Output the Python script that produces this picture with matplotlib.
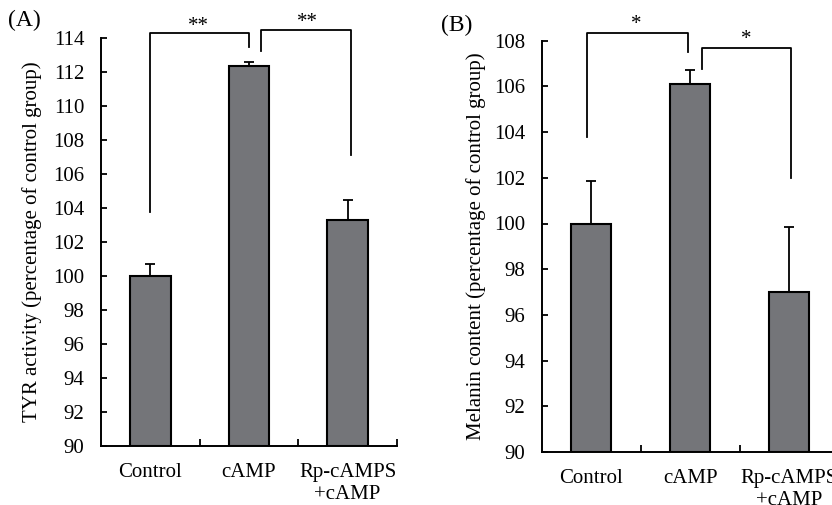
import matplotlib.pyplot as plt

plt.rcParams['font.family'] = ['Liberation Serif', 'DejaVu Serif']

groups = ["Control", "cAMP", "Rp-cAMPS\n+cAMP"]

tyr_mean = [100.0, 112.35, 103.3]
tyr_err = [0.7, 0.25, 1.2]

mel_mean = [100.0, 106.1, 97.0]
mel_err = [1.85, 0.6, 2.85]

# significance brackets: (x_left, x_right, y_left_bottom, y_top, y_right_bottom, label, star_x, star_y)
tyr_brackets = [
    (0.0, 1.0, 103.75, 114.3, 113.47, "**", 0.49, 114.1),
    (1.12, 2.03, 113.24, 114.45, 107.13, "**", 1.59, 114.35),
]
mel_brackets = [
    (-0.045, 0.975, 103.8, 108.34, 107.5, "*", 0.45, 108.28),
    (1.12, 2.02, 106.75, 107.7, 102.0, "*", 1.57, 107.63),
]

BAR_COLOR = "#747579"

fig = plt.figure(figsize=(8.32, 5.05), dpi=100)
axA = fig.add_axes([101 / 832, 1 - 446 / 505, 296 / 832, 408 / 505])
axB = fig.add_axes([541.7 / 832, 1 - 452 / 505, 297 / 832, 411.3 / 505])


def draw(ax, means, errs, ylim, yticks, ylabel, brackets, label_x):
    x = list(range(len(means)))
    heights = [m - ylim[0] for m in means]
    ax.bar(x, heights, width=0.41, bottom=ylim[0], color=BAR_COLOR,
           edgecolor="black", linewidth=1.5, zorder=2)
    ax.errorbar(x, means, yerr=[[0] * len(errs), errs], fmt="none",
                ecolor="black", elinewidth=1.3, capsize=3.6, capthick=1.3, zorder=3)
    ax.set_xlim(-0.5, 2.5)
    ax.set_ylim(*ylim)
    ax.set_yticks(yticks)
    ax.set_xticks(x)
    ax.set_xticklabels(groups, fontsize=15, linespacing=1.25)
    ax.set_xticks([0.5, 1.5, 2.5], minor=True)
    ax.tick_params(axis="x", which="major", length=0, pad=12)
    ax.tick_params(axis="x", which="minor", direction="in", length=5, width=1.3)
    ax.tick_params(axis="y", direction="in", length=4, width=1.3, pad=12, labelsize=15)
    for s in ["top", "right"]:
        ax.spines[s].set_visible(False)
    for s in ["left", "bottom"]:
        ax.spines[s].set_linewidth(1.4)
    ax.set_ylabel(ylabel, fontsize=15)
    ax.yaxis.set_label_coords(label_x, 0.5)
    for xl, xr, yl, yt, yr, txt, sx, sy in brackets:
        ax.plot([xl, xl, xr, xr], [yl, yt, yt, yr], color="black",
                linewidth=1.3, clip_on=False, zorder=4)
        ax.text(sx, sy, txt, ha="center", va="bottom", fontsize=15)


draw(axA, tyr_mean, tyr_err, (90, 114), range(90, 115, 2),
     "TYR activity (percentage of control group)", tyr_brackets, -0.20)
draw(axB, mel_mean, mel_err, (90, 108), range(90, 109, 2),
     "Melanin content (percentage of control group)", mel_brackets, -0.188)

fig.text(8 / 832, 1 - 20 / 505, "(A)", fontsize=17, va="center", ha="left")
fig.text(441 / 832, 1 - 25 / 505, "(B)", fontsize=17, va="center", ha="left")

fig.savefig("out.png", dpi=100)
